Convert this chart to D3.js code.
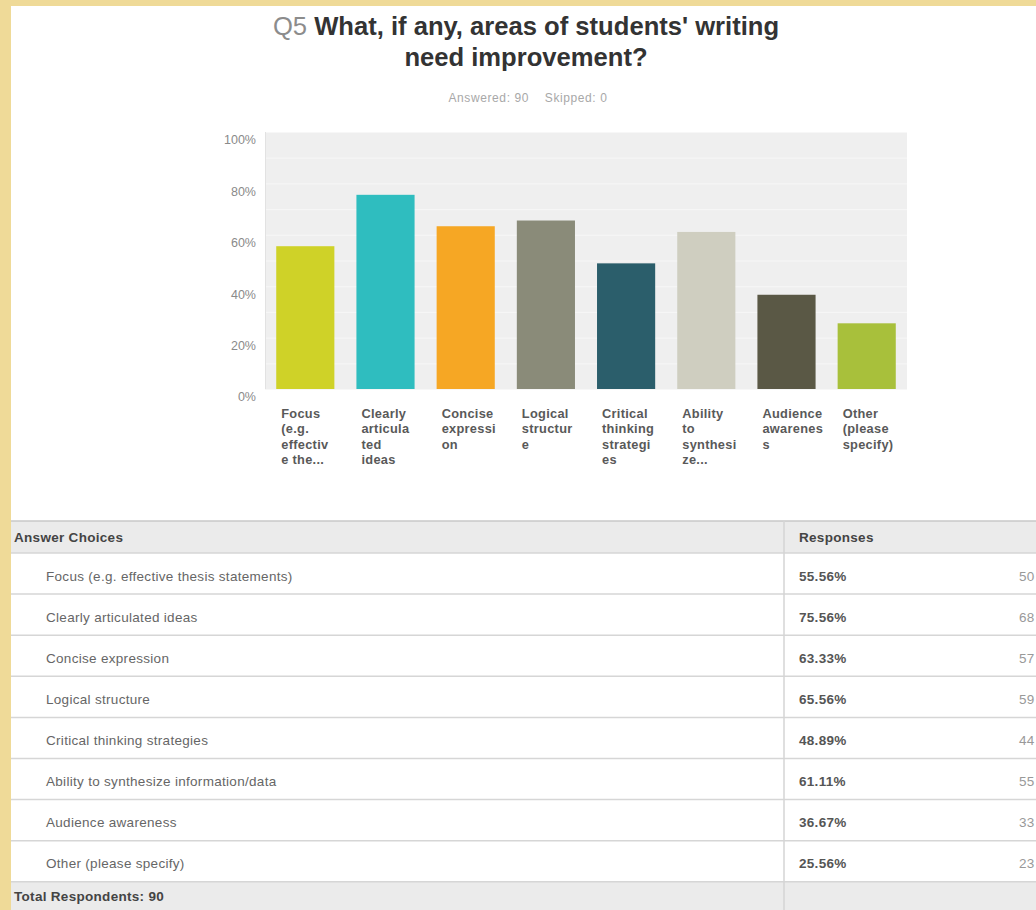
<!DOCTYPE html>
<html>
<head>
<meta charset="utf-8">
<script src="https://cdn.jsdelivr.net/npm/d3@7"></script>
<style>
  html, body { margin: 0; padding: 0; background: #efda98; }
  svg { display: block; }
</style>
</head>
<body>
<svg id="chart" width="1036" height="910"></svg>
<script>
const questionNo = "Q5";
const titleLines = ["What, if any, areas of students' writing", "need improvement?"];
const answered = 90;
const skipped = 0;
const categories = [
  "Focus (e.g. effective thesis statements)",
  "Clearly articulated ideas",
  "Concise expression",
  "Logical structure",
  "Critical thinking strategies",
  "Ability to synthesize information/data",
  "Audience awareness",
  "Other (please specify)"
];
const axisLabelLines = [
  ["Focus", "(e.g.", "effectiv", "e the..."],
  ["Clearly", "articula", "ted", "ideas"],
  ["Concise", "expressi", "on"],
  ["Logical", "structur", "e"],
  ["Critical", "thinking", "strategi", "es"],
  ["Ability", "to", "synthesi", "ze..."],
  ["Audience", "awarenes", "s"],
  ["Other", "(please", "specify)"]
];
const percents = [55.56, 75.56, 63.33, 65.56, 48.89, 61.11, 36.67, 25.56];
const counts = [50, 68, 57, 59, 44, 55, 33, 23];
const yTicks = [0, 20, 40, 60, 80, 100];
const barColors = ["#cfd228", "#2fbdbf", "#f6a724", "#8a8b79", "#2b5e6b", "#cfcec0", "#5a5845", "#a8c03b"];
const totalRespondents = 90;

const svg = d3.select("#chart");
const FONT = "'Liberation Sans', Arial, sans-serif";

// white panel
svg.append("rect").attr("x", 11).attr("y", 6).attr("width", 1036 - 11).attr("height", 910 - 6).attr("fill", "#ffffff");

// title
const t1 = svg.append("text").attr("x", 526).attr("y", 35).attr("text-anchor", "middle")
  .style("font-family", FONT).style("font-size", "25.6px");
t1.append("tspan").attr("fill", "#8c8c8c").text(questionNo + " ");
t1.append("tspan").attr("fill", "#333").attr("font-weight", "bold").text(titleLines[0]);
svg.append("text").attr("x", 526).attr("y", 66).attr("text-anchor", "middle")
  .style("font-family", FONT).style("font-size", "25.6px").attr("font-weight", "bold").attr("fill", "#333")
  .text(titleLines[1]);

svg.append("text").attr("x", 528).attr("y", 102).attr("text-anchor", "middle")
  .style("font-family", FONT).style("font-size", "12px").style("letter-spacing", "0.6px").attr("fill", "#a8a8a8")
  .text("Answered: " + answered + "\u00a0\u00a0\u00a0\u00a0Skipped: " + skipped);

// chart
const x = d3.scaleBand().domain(categories).range([265, 907]).paddingInner(0.275).paddingOuter(0.14);
const y = d3.scaleLinear().domain([0, 100]).range([389, 132]);

svg.append("rect").attr("x", 265).attr("y", y(100)).attr("width", 907 - 265).attr("height", y(0) - y(100)).attr("fill", "#efefef");

// faint grid stripes
const gridVals = d3.range(0, 101, 10);
svg.append("g").selectAll("line").data(gridVals).join("line")
  .attr("x1", 265).attr("x2", 907).attr("y1", d => y(d) + 0.5).attr("y2", d => y(d) + 0.5)
  .attr("stroke", "#f7f7f7").attr("stroke-width", 1);
svg.append("line").attr("x1", 265.5).attr("x2", 265.5).attr("y1", y(100)).attr("y2", y(0))
  .attr("stroke", "#e2e2e2");

const yAxis = d3.axisLeft(y).tickValues(yTicks).tickSize(0).tickPadding(9).tickFormat(d => d + "%");
const gy = svg.append("g").attr("transform", "translate(265,0)").call(yAxis);
gy.select(".domain").remove();
gy.selectAll("text").attr("dy", "0.95em").attr("fill", "#8a8a8a")
  .style("font-family", FONT).style("font-size", "12.5px");

svg.append("g").selectAll("rect").data(percents).join("rect")
  .attr("x", (d, i) => x(categories[i]))
  .attr("width", x.bandwidth())
  .attr("y", d => y(d))
  .attr("height", d => y(0) - y(d))
  .attr("fill", (d, i) => barColors[i]);

const xl = svg.append("g");
axisLabelLines.forEach((lines, i) => {
  const tx = xl.append("text").attr("x", x(categories[i]) + 5).attr("y", 418)
    .style("font-family", FONT).style("font-size", "12.8px").style("letter-spacing", "0.3px")
    .attr("font-weight", "bold").attr("fill", "#595959");
  lines.forEach((ln, j) => {
    tx.append("tspan").attr("x", x(categories[i]) + 5).attr("y", 418 + j * 15.3).text(ln);
  });
});

// table
const tableTop = 521, headerH = 32, rowH = 41.1;
const rowsTop = tableTop + headerH;
const totalTop = rowsTop + rowH * categories.length;
const colX = 784;

svg.append("rect").attr("x", 11).attr("y", tableTop).attr("width", 1036).attr("height", headerH).attr("fill", "#ebebeb");
svg.append("rect").attr("x", 11).attr("y", totalTop).attr("width", 1036).attr("height", 910 - totalTop).attr("fill", "#ebebeb");
svg.append("line").attr("x1", 11).attr("x2", 1036).attr("y1", tableTop).attr("y2", tableTop).attr("stroke", "#c9c9c9").attr("stroke-width", 1.5);

const rowLines = d3.range(categories.length + 1).map(i => rowsTop + i * rowH);
svg.append("g").selectAll("line").data(rowLines).join("line")
  .attr("x1", 11).attr("x2", 1036).attr("y1", d => d).attr("y2", d => d)
  .attr("stroke", "#d6d6d6").attr("stroke-width", 1.5);
svg.append("line").attr("x1", colX).attr("x2", colX).attr("y1", tableTop).attr("y2", 910)
  .attr("stroke", "#d4d4d4").attr("stroke-width", 1.5);

const textStyle = sel => sel.style("font-family", FONT).style("font-size", "13.5px").style("letter-spacing", "0.3px");

svg.append("text").attr("x", 14).attr("y", tableTop + headerH / 2 + 5).call(textStyle)
  .attr("font-weight", "bold").attr("fill", "#444").text("Answer Choices");
svg.append("text").attr("x", 799).attr("y", tableTop + headerH / 2 + 5).call(textStyle)
  .attr("font-weight", "bold").attr("fill", "#444").text("Responses");

const rows = svg.append("g").selectAll("g").data(categories).join("g")
  .attr("transform", (d, i) => `translate(0,${rowsTop + i * rowH + rowH / 2 + 7})`);
rows.append("text").attr("x", 46).call(textStyle).attr("fill", "#666").text(d => d);
rows.append("text").attr("x", 799).call(textStyle).attr("font-weight", "bold").attr("fill", "#555")
  .text((d, i) => percents[i].toFixed(2) + "%");
rows.append("text").attr("x", 1019).call(textStyle).attr("fill", "#999").text((d, i) => counts[i]);

svg.append("text").attr("x", 14).attr("y", totalTop + 19).call(textStyle)
  .attr("font-weight", "bold").attr("fill", "#444").text("Total Respondents: " + totalRespondents);
</script>
</body>
</html>
